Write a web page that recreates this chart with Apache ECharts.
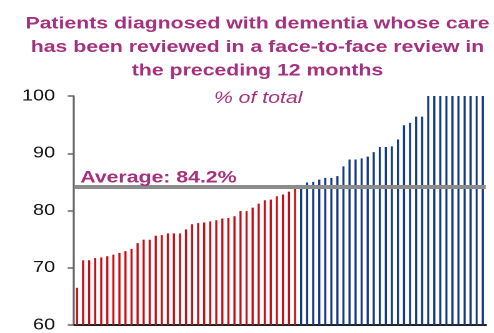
<!DOCTYPE html>
<html>
<head>
<meta charset="utf-8">
<script src="https://cdn.jsdelivr.net/npm/echarts@6/dist/echarts.min.js"></script>
<style>
  html, body { margin: 0; padding: 0; background: #ffffff; overflow: hidden; }
  /* the chart is laid out narrower and widened horizontally for a stretched look */
  #chart { width: 395.2px; height: 333px; transform: scaleX(1.25); transform-origin: 0 0; }
</style>
</head>
<body>
<div id="chart"></div>
<script>
// Practices below the average, sorted ascending (% of patients reviewed)
const belowAverage = [
  66.5, 71.3, 71.3, 71.7, 71.8, 72.0, 72.3, 72.6, 72.9, 73.3,
  74.3, 74.9, 74.9, 75.6, 75.7, 76.0, 76.0, 76.0, 76.7, 77.6,
  77.8, 77.9, 78.1, 78.3, 78.6, 78.7, 79.0, 79.9, 79.9, 80.5,
  81.2, 81.8, 81.9, 82.5, 82.8, 83.3, 84.1
];
// Practices at or above the average, sorted ascending
const aboveAverage = [
  84.3, 84.9, 85.0, 85.4, 85.7, 85.7, 86.0, 87.7, 88.9, 88.9,
  89.1, 89.4, 90.2, 91.1, 91.1, 91.2, 92.4, 94.9, 95.3, 96.4,
  96.4, 100, 100, 100, 100, 100, 100, 100, 100, 100, 100
];
const averageValue = 84.2;
const yTicks = [60, 70, 80, 90, 100];

const titleLines = [
  'Patients diagnosed with dementia whose care',
  'has been reviewed in a face-to-face review in',
  'the preceding 12 months'
];
const subtitleText = '% of total';
const averageLabel = 'Average: ' + averageValue + '%';

const practices = belowAverage.concat(aboveAverage).map((_, i) => 'P' + (i + 1));
const redData = practices.map((_, i) => i < belowAverage.length ? belowAverage[i] : null);
const blueData = practices.map((_, i) => i >= belowAverage.length ? aboveAverage[i - belowAverage.length] : null);

const magenta = '#a5307f';
const font = '"Liberation Sans", Arial, sans-serif';

const chart = echarts.init(document.getElementById('chart'), null, { renderer: 'canvas', devicePixelRatio: 2 });
chart.setOption({
  animation: false,
  backgroundColor: '#ffffff',
  title: [
    {
      text: titleLines.join('\n'),
      left: 201, top: 7, textAlign: 'center',
      textStyle: { color: magenta, fontFamily: font, fontSize: 17, fontWeight: 'bold', lineHeight: 23.5 }
    },
    {
      text: subtitleText,
      left: 201.5, top: 85, textAlign: 'center',
      textStyle: { color: magenta, fontFamily: font, fontSize: 17, fontStyle: 'italic', fontWeight: 'normal' }
    }
  ],
  grid: { left: 59.2, right: 6.4, top: 96, bottom: 3, containLabel: false },
  xAxis: {
    type: 'category',
    data: practices,
    axisLine: { show: true, lineStyle: { color: '#222222', width: 2 } },
    axisTick: { show: false },
    axisLabel: { show: false },
    splitLine: { show: false }
  },
  yAxis: {
    type: 'value',
    min: yTicks[0], max: yTicks[yTicks.length - 1], interval: 10,
    axisLine: { show: true, lineStyle: { color: '#666666', width: 1.6 } },
    axisTick: { show: true, length: 5, lineStyle: { color: '#666666', width: 1.5 } },
    axisLabel: { color: '#111111', fontFamily: font, fontSize: 16, margin: 15 },
    splitLine: { show: false }
  },
  series: [
    {
      type: 'bar', data: redData, barWidth: 1.7, barGap: '-100%',
      itemStyle: { color: '#cc0c14' },
      markLine: {
        silent: true, symbol: ['none', 'none'],
        lineStyle: { color: '#8c8c8c', width: 4, type: 'solid' },
        label: {
          show: true, position: 'insideStartTop', formatter: averageLabel,
          color: magenta, fontFamily: font, fontSize: 17, fontWeight: 'bold', distance: [5, 0]
        },
        data: [{ yAxis: averageValue }]
      },
      z: 2
    },
    {
      type: 'bar', data: blueData, barWidth: 1.7, barGap: '-100%',
      itemStyle: { color: '#133a88' },
      z: 2
    }
  ]
});
</script>
</body>
</html>
